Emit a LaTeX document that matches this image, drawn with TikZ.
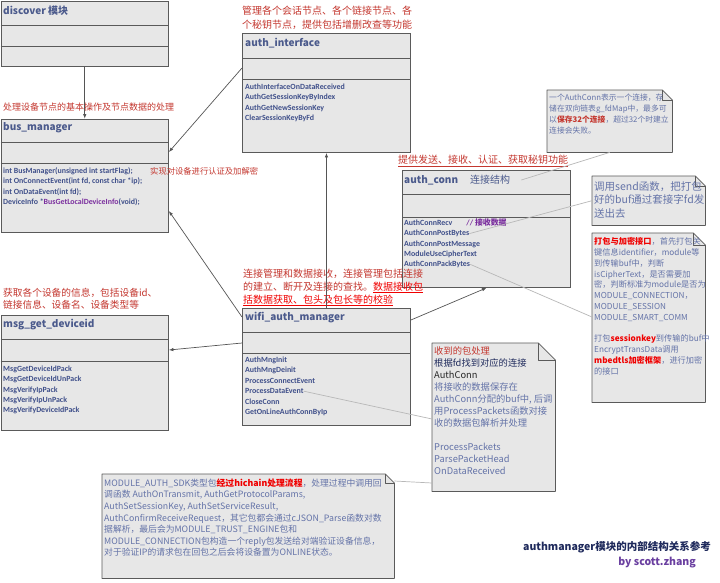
\documentclass[tikz,border=0pt]{standalone}
\usepackage{fontspec}
\setmainfont{Noto Sans CJK SC}
\newfontfamily\codefont{Carlito}
\usetikzlibrary{arrows.meta}

\definecolor{boxfill}{HTML}{E7E7E7}
\definecolor{boxline}{HTML}{5A5A5A}
\definecolor{titleblue}{HTML}{4B5A8C}
\definecolor{methodblue}{HTML}{3F4F8A}
\definecolor{methodpurple}{HTML}{7A2E9E}
\definecolor{labred}{HTML}{C4372F}
\definecolor{hotred}{HTML}{F00000}
\definecolor{notegray}{HTML}{6473A8}
\definecolor{linkgray}{HTML}{B8B8B8}
\definecolor{arrowgray}{HTML}{555555}
\definecolor{navy}{HTML}{1F2A5C}
\definecolor{bypurple}{HTML}{6A3FA0}

\tikzset{
  classbox/.style={draw=boxline, fill=boxfill, line width=0.9pt, anchor=north west, inner sep=0pt},
  divider/.style={draw=boxline, line width=0.9pt},
  notearea/.style={anchor=north west, inner sep=0pt},
  notepaper/.style={draw=boxline, fill=boxfill, line width=0.8pt, line join=round},
  classtitle/.style={anchor=west, inner sep=0pt, text=titleblue, font=\bfseries\fontsize{10}{12}\selectfont},
  method/.style={anchor=base west, inner sep=0pt, text=methodblue, font=\codefont\bfseries\fontsize{7.9}{9}\selectfont},
  remark/.style={inner sep=0pt, align=left, text=labred},
  notetext/.style={anchor=north west, inner sep=0pt, align=left, text=notegray},
  uses/.style={draw=arrowgray, line width=0.7pt, -{Latex[length=4.5pt,width=3.5pt]}},
  notelink/.style={draw=linkgray, line width=0.7pt},
}

% folded corner of a note
\newcommand{\dogear}[2]{%
  \draw[notepaper] (#1.north west) -- ([xshift=-#2pt]#1.north east) -- ([yshift=-#2pt]#1.north east) -- (#1.south east) -- (#1.south west) -- cycle;
  \draw[notepaper, fill=none] ([xshift=-#2pt]#1.north east) |- ([yshift=-#2pt]#1.north east);
}

\begin{document}
\begin{tikzpicture}[x=1pt, y=-1pt]
\useasboundingbox[fill=white] (0,0) rectangle (720,582);

% discover
\node[classbox, minimum width=167.4pt, minimum height=65.4pt] (discover) at (0.6,0.6) {};
\draw[divider] (discover.west |- 0,25) -- (discover.east |- 0,25);
\draw[divider] (discover.west |- 0,46) -- (discover.east |- 0,46);
\node[classtitle] (discovert) at (3,11) {discover 模块};

% bus_manager
\node[classbox, minimum width=167.4pt, minimum height=113.4pt] (busmgr) at (0.6,118.6) {};
\draw[divider] (busmgr.west |- 0,142) -- (busmgr.east |- 0,142);
\draw[divider] (busmgr.west |- 0,163) -- (busmgr.east |- 0,163);
\node[classtitle] (busmgrt) at (3,128) {bus\_manager};
\foreach \m [count=\i from 0] in {{int BusManager(unsigned int startFlag);},
    {int OnConnectEvent(int fd, const char *ip);}, {int OnDataEvent(int fd);},
    {DeviceInfo *\textcolor{methodpurple}{BusGetLocalDeviceInfo}(void);}}
  \node[method] (bm\i) at (3,{173.5+10.3*\i}) {\m};

% auth_interface
\node[classbox, minimum width=168pt, minimum height=119pt] (authif) at (242,33) {};
\draw[divider] (authif.west |- 0,58) -- (authif.east |- 0,58);
\draw[divider] (authif.west |- 0,79) -- (authif.east |- 0,79);
\node[classtitle] (authift) at (245,43) {auth\_interface};
\foreach \m [count=\i from 0] in {AuthInterfaceOnDataReceived, AuthGetSessionKeyByIndex,
    AuthGetNewSessionKey, ClearSessionKeyByFd}
  \node[method] (ai\i) at (245,{89.5+10.3*\i}) {\m};

% auth_conn
\node[classbox, minimum width=168pt, minimum height=117pt] (authconn) at (402,170) {};
\draw[divider] (authconn.west |- 0,194) -- (authconn.east |- 0,194);
\draw[divider] (authconn.west |- 0,217) -- (authconn.east |- 0,217);
\node[classtitle] (authconnt) at (404,180) {auth\_conn\hspace{12pt}{\mdseries 连接结构}};
\foreach \m [count=\i from 0] in {{AuthConnRecv\hspace{14pt}\textcolor{methodpurple}{// {\normalfont\bfseries 接收数据}}},
    AuthConnPostBytes, AuthConnPostMessage, ModuleUseCipherText, AuthConnPackBytes}
  \node[method] (ac\i) at (404,{225.5+10.25*\i}) {\m};

% wifi_auth_manager
\node[classbox, minimum width=168pt, minimum height=117pt] (wifimgr) at (242,308) {};
\draw[divider] (wifimgr.west |- 0,332) -- (wifimgr.east |- 0,332);
\draw[divider] (wifimgr.west |- 0,353) -- (wifimgr.east |- 0,353);
\node[classtitle] (wifimgrt) at (245,318) {wifi\_auth\_manager};
\foreach \m [count=\i from 0] in {AuthMngInit, AuthMngDeinit, ProcessConnectEvent,
    ProcessDataEvent, CloseConn, GetOnLineAuthConnByIp}
  \node[method] (wm\i) at (245,{362.5+10.4*\i}) {\m};

% msg_get_deviceid
\node[classbox, minimum width=167.4pt, minimum height=115pt] (msgdev) at (0.6,315) {};
\draw[divider] (msgdev.west |- 0,339) -- (msgdev.east |- 0,339);
\draw[divider] (msgdev.west |- 0,361) -- (msgdev.east |- 0,361);
\node[classtitle] (msgdevt) at (3,325) {msg\_get\_deviceid};
\foreach \m [count=\i from 0] in {MsgGetDeviceIdPack, MsgGetDeviceIdUnPack, MsgVerifyIpPack,
    MsgVerifyIpUnPack, MsgVerifyDeviceIdPack}
  \node[method] (md\i) at (3,{371.5+10.25*\i}) {\m};

% remarks
\node[remark, anchor=north west, font=\fontsize{10}{14}\selectfont] (authifr) at (242,5.5)
  {管理各个会话节点、各个链接节点、各\\个秘钥节点，提供包括增删改查等功能};
\node[remark, anchor=base west, font=\fontsize{9}{11}\selectfont] (busmgrr) at (3,110.4)
  {处理设备节点的基本操作及节点数据的处理};
\node[remark, anchor=base west, font=\fontsize{8.3}{10}\selectfont] (cryptr) at (150,174.2)
  {实现对设备进行认证及加解密};
\node[remark, anchor=base west, font=\fontsize{10}{12}\selectfont] (authconnr) at (398,163.8)
  {\underline{提供发送、接收、认证、获取秘钥功能}};
\node[remark, anchor=north west, font=\fontsize{10}{13}\selectfont] (wifimgrr) at (243,268.5)
  {连接管理和数据接收，连接管理包括连接\\的建立、断开及连接的查找。\textcolor{hotred}{\underline{数据接收包}}\\
   \textcolor{hotred}{\underline{括数据获取、包头及包长等的校验}}};
\node[remark, anchor=north west, font=\fontsize{9.7}{12.5}\selectfont] (msgdevr) at (3,287.6)
  {获取各个设备的信息，包括设备id、\\链接信息、设备名、设备类型等};

% notes
\node[notearea, minimum width=125pt, minimum height=62pt] (noteA) at (547,90) {};
\dogear{noteA}{10}
\node[notetext, font=\fontsize{7.8}{11}\selectfont] (noteAt) at (549,93.5)
  {一个AuthConn表示一个连接，存\\储在双向链表g\_fdMap中，最多可\\以\textcolor{labred}{\bfseries 保存32个连接}，超过32个时建立\\连接会失败。};

\node[notearea, minimum width=113pt, minimum height=49pt] (noteB) at (592,176) {};
\dogear{noteB}{10}
\node[notetext, font=\fontsize{10.5}{13.5}\selectfont] (noteBt) at (594,181.3)
  {调用send函数，把打包\\好的buf通过套接字fd发\\送出去};

\node[notearea, minimum width=113pt, minimum height=169pt] (noteC) at (592,233) {};
\dogear{noteC}{12}
\node[notetext, font=\fontsize{8.2}{10.8}\selectfont] (noteCt) at (594,237.3)
  {\textcolor{hotred}{\bfseries 打包与加密接口}，首先打包关\\键信息identifier，module等\\到传输buf中，判断\\
   isCipherText，是否需要加\\密，判断标准为module是否为\\MODULE\_CONNECTION，\\MODULE\_SESSION\\
   MODULE\_SMART\_COMM\\[10.8pt]打包\textcolor{hotred}{\bfseries sessionkey}到传输的buf中\\EncryptTransData调用\\
   \textcolor{hotred}{\bfseries mbedtls加密框架}，进行加密\\的接口};

\node[notearea, minimum width=123pt, minimum height=148pt] (noteD) at (432,343) {};
\dogear{noteD}{17}
\node[notetext, font=\fontsize{9.3}{12}\selectfont] (noteDt) at (434,346.8)
  {\textcolor{labred}{收到的包处理}\\\textcolor{navy}{根据fd找到对应的连接}\\\textcolor{black!85}{AuthConn}\\
   将接收的数据保存在\\AuthConn分配的buf中, 后调\\用ProcessPackets函数对接\\收的数据包解析并处理\\[12pt]
   ProcessPackets\\ParsePacketHead\\OnDataReceived};

\node[notearea, minimum width=292pt, minimum height=104pt] (noteE) at (102,474) {};
\dogear{noteE}{9}
\node[notetext, font=\fontsize{8.8}{11.6}\selectfont] (noteEt) at (104,478.5)
  {MODULE\_AUTH\_SDK类型包\textcolor{hotred}{\bfseries 经过hichain处理流程}，处理过程中调用回\\
   调函数 AuthOnTransmit, AuthGetProtocolParams,\\AuthSetSessionKey, AuthSetServiceResult,\\
   AuthConfirmReceiveRequest，其它包都会通过cJSON\_Parse函数对数\\据解析，最后会为MODULE\_TRUST\_ENGINE包和\\
   MODULE\_CONNECTION包构造一个reply包发送给对端验证设备信息，\\对于验证IP的请求包在回包之后会将设备置为ONLINE状态。};

% dependencies
\draw[uses] (discover.south) -- (busmgr.north);
\draw[uses] (authif.west |- 0,68) -- (busmgr.east |- 0,152);
\draw[uses] (wifimgr.west |- 0,317) -- (busmgr.east |- 0,211);
\draw[uses] (wifimgr.north) -- (authif.south);
\draw[uses] (wifimgr.east |- 0,320) -- (authconn.south);
\draw[uses] (wifimgr.west |- 0,343) -- (msgdev.east |- 0,350);

% note links
\draw[notelink] (noteA.south) -- ([xshift=11pt]authconnt.east);
\draw[notelink] (noteB.west) -- (ac1.east);
\draw[notelink] (noteC.west |- 0,317) -- (ac4.east);
\draw[notelink] (wm3.east) -- (noteD.west |- 0,419);
\draw[notelink] (noteE.east |- 0,481) -- (noteD.west |- 0,483);

% caption
\node[anchor=east, inner sep=0pt, text=navy, font=\bfseries\fontsize{10.5}{12}\selectfont] (caption) at (711,547)
  {authmanager模块的内部结构关系参考};
\node[anchor=east, inner sep=0pt, text=bypurple, font=\bfseries\fontsize{10.5}{12}\selectfont] (byline) at (696,563)
  {by scott.zhang};
\end{tikzpicture}
\end{document}
